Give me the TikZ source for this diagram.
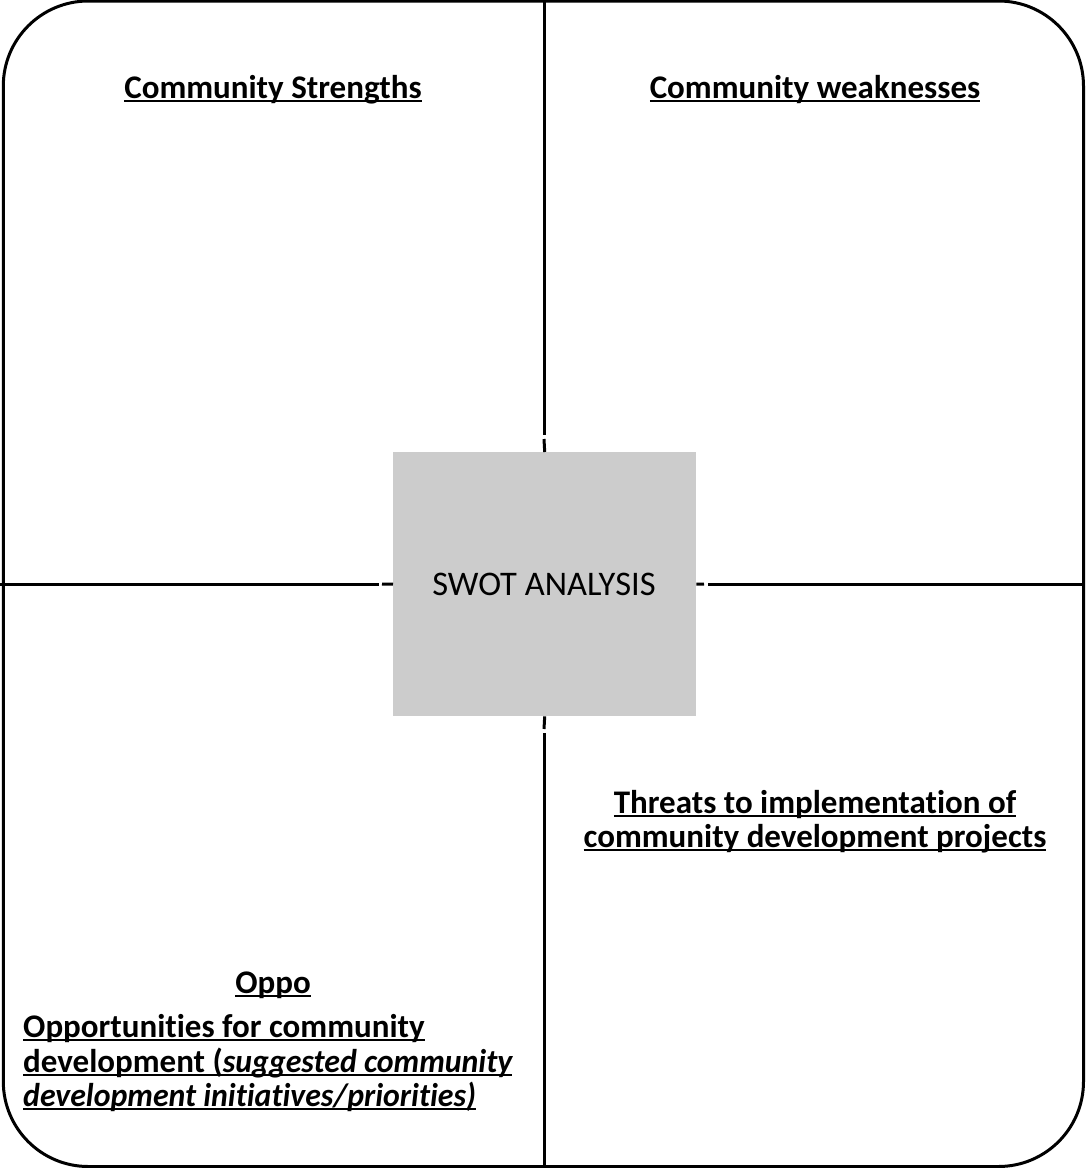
\documentclass[tikz,border=0pt]{standalone}
\usepackage{fontspec}
\usepackage{graphicx}
\setmainfont{Carlito}[Ligatures=NoCommon]
\newcommand\myul[1]{\setbox0\hbox{#1}\rlap{\rule[-4pt]{\wd0}{2pt}}\box0}
\newcommand\myit[1]{\scalebox{0.965}[1]{\itshape #1}}
\begin{document}
\begin{tikzpicture}[x=1pt,y=-1pt,
  heading/.style={font=\fontsize{33}{30.5}\selectfont\bfseries, inner sep=0pt, anchor=base},
  divider/.style={line width=3pt, black},
  frame/.style={line width=3pt, black, rounded corners=85pt}]
\useasboundingbox (0,0) rectangle (1085,1168);
% outer frame
\draw[frame] (3.3,1) rectangle (1083.5,1166.5);
% centre box
\node[fill=black!20, minimum width=303pt, minimum height=264pt, inner sep=0pt, anchor=north west] (swot) at (393,452) {};
\node[font=\fontsize{34.5}{36}\selectfont, inner sep=0pt, anchor=base] (swottext) at (544,595) {SWOT ANALYSIS};
% dividers with small gaps near the box
\coordinate (vt) at (544,0);
\coordinate (vb) at (544,1168);
\coordinate (hl) at (0,584);
\coordinate (hr) at (1085,584);
\draw[divider] (vt) -- (544,435);
\draw[divider] (544,439) -- (swot.north);
\draw[divider] (swot.south) -- (544,729);
\draw[divider] (544,733) -- (vb);
\draw[divider] (hl) -- (379,584);
\draw[divider] (382,584) -- (swot.west);
\draw[divider] (swot.east) -- (704,584);
\draw[divider] (708,584) -- (hr);
% headings
\node[heading] (str) at (273,98) {\myul{Community Strengths}};
\node[heading] (weak) at (815,98) {\myul{Community weaknesses}};
\node[heading] (thr1) at (815,813) {\myul{Threats to implementation of}};
\node[heading] (thr2) at (815,847) {\myul{community development projects}};
\node[heading] (oppo) at (273,993) {\myul{Oppo}};
\node[heading, anchor=base west] (opp1) at (23,1037) {\myul{Opportunities for community}};
\node[heading, anchor=base west] (opp2) at (23,1072) {\myul{development (\myit{suggested community}}};
\node[heading, anchor=base west] (opp3) at (23,1106) {\myul{\myit{development initiatives/priorities)}}};
\end{tikzpicture}
\end{document}
